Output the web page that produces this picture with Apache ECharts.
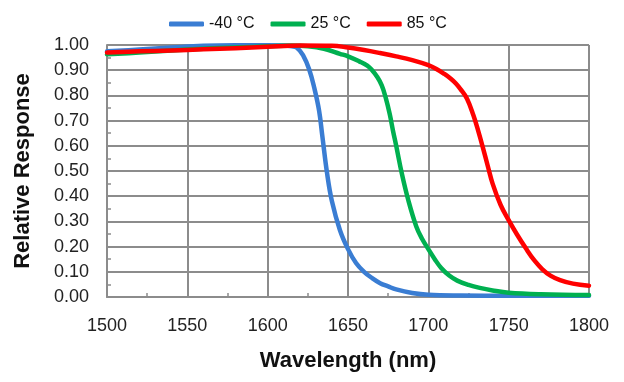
<!DOCTYPE html>
<html>
<head>
<meta charset="utf-8">
<script src="https://cdn.jsdelivr.net/npm/echarts@6/dist/echarts.min.js"></script>
<style>html,body{margin:0;padding:0;background:#fff}#c{width:624px;height:382px}</style>
</head>
<body>
<div id="c"></div>
<script>
const seriesNames = ['-40 °C', '25 °C', '85 °C'];
const xTicks = [1500, 1550, 1600, 1650, 1700, 1750, 1800];
const yTicks = [0, 0.1, 0.2, 0.3, 0.4, 0.5, 0.6, 0.7, 0.8, 0.9, 1.0];

const blue = [
  [1500,0.975],[1520,0.982],[1540,0.99],[1560,0.997],[1580,0.999],[1600,0.999],[1610,0.998],
  [1615,0.995],[1618,0.99],[1622,0.96],[1626,0.90],[1629,0.83],[1632,0.74],[1634,0.64],
  [1637,0.49],[1640,0.38],[1645,0.265],[1650,0.19],[1655,0.135],[1660,0.10],[1665,0.075],
  [1670,0.055],[1675,0.042],[1680,0.03],[1690,0.016],[1700,0.009],[1720,0.006],[1750,0.005],[1800,0.005]
];
const green = [
  [1500,0.963],[1520,0.97],[1540,0.978],[1560,0.985],[1580,0.99],[1600,0.995],[1615,0.998],
  [1625,0.995],[1635,0.985],[1645,0.965],[1650,0.955],[1657,0.935],[1662,0.918],[1665,0.90],
  [1668,0.875],[1671,0.84],[1673.5,0.79],[1676,0.725],[1678,0.66],[1680,0.60],[1683.5,0.49],
  [1687.5,0.385],[1692.5,0.28],[1696,0.232],[1700,0.19],[1704,0.15],[1708,0.115],[1713,0.085],
  [1718,0.065],[1725,0.048],[1732,0.036],[1740,0.026],[1750,0.017],[1770,0.011],[1800,0.008]
];
const red = [
  [1500,0.97],[1520,0.975],[1540,0.978],[1560,0.983],[1580,0.987],[1600,0.993],[1620,0.998],
  [1640,0.997],[1650,0.99],[1660,0.98],[1670,0.968],[1680,0.955],[1690,0.94],[1700,0.92],
  [1705,0.905],[1710,0.885],[1714,0.866],[1717,0.848],[1720,0.825],[1724,0.788],[1728,0.722],
  [1731,0.66],[1734,0.592],[1737,0.52],[1740,0.45],[1745,0.365],[1750,0.305],[1755,0.25],
  [1761,0.19],[1766,0.145],[1771,0.11],[1776,0.085],[1782,0.067],[1790,0.053],[1800,0.045]
];

const colors = ['#3A7DD3', '#00B050', '#FF0000'];
const gridColor = '#8C8C8C';
const chart = echarts.init(document.getElementById('c'), null, {renderer: 'canvas'});

function mkSeries(name, data, color) {
  return {
    name: name, type: 'line', data: data, showSymbol: false, symbol: 'none',
    smooth: 0.4,
    lineStyle: {color: color, width: 4.5, cap: 'round', join: 'round'},
    itemStyle: {color: color},
    animation: false
  };
}

chart.setOption({
  animation: false,
  textStyle: {fontFamily: 'Liberation Sans, Arial, sans-serif'},
  legend: {
    data: seriesNames, top: 11, left: 164, itemWidth: 35, itemHeight: 5, itemGap: 16,
    icon: 'roundRect',
    textStyle: {fontSize: 16, color: '#111', fontFamily: 'Liberation Sans, Arial, sans-serif'}
  },
  grid: {left: 107, right: 35, top: 45, bottom: 85, containLabel: false},
  xAxis: {
    type: 'value', min: xTicks[0], max: xTicks[xTicks.length - 1], interval: 50,
    name: 'Wavelength (nm)', nameLocation: 'middle', nameGap: 53,
    nameTextStyle: {fontSize: 22, fontWeight: 'bold', color: '#111'},
    axisLine: {show: true, lineStyle: {color: gridColor, width: 2}},
    axisTick: {show: false, inside: true},
    minorTick: {show: true, splitNumber: 2, length: 4, lineStyle: {color: gridColor, width: 1.5}},
    axisLabel: {fontSize: 18, color: '#222', margin: 20, formatter: v => String(v)},
    splitLine: {show: true, lineStyle: {color: gridColor, width: 2}}
  },
  yAxis: {
    type: 'value', min: yTicks[0], max: yTicks[yTicks.length - 1], interval: 0.1,
    name: 'Relative Response', nameLocation: 'middle', nameGap: 73,
    nameTextStyle: {fontSize: 22, fontWeight: 'bold', color: '#111'},
    axisLine: {show: true, lineStyle: {color: gridColor, width: 2}},
    axisTick: {show: false, inside: true},
    minorTick: {show: true, splitNumber: 2, length: 4, lineStyle: {color: gridColor, width: 1.5}},
    axisLabel: {fontSize: 18, color: '#222', margin: 18, formatter: v => v.toFixed(2)},
    splitLine: {show: true, lineStyle: {color: gridColor, width: 2}}
  },
  series: [
    mkSeries(seriesNames[0], blue, colors[0]),
    mkSeries(seriesNames[1], green, colors[1]),
    mkSeries(seriesNames[2], red, colors[2])
  ]
});
</script>
</body>
</html>
